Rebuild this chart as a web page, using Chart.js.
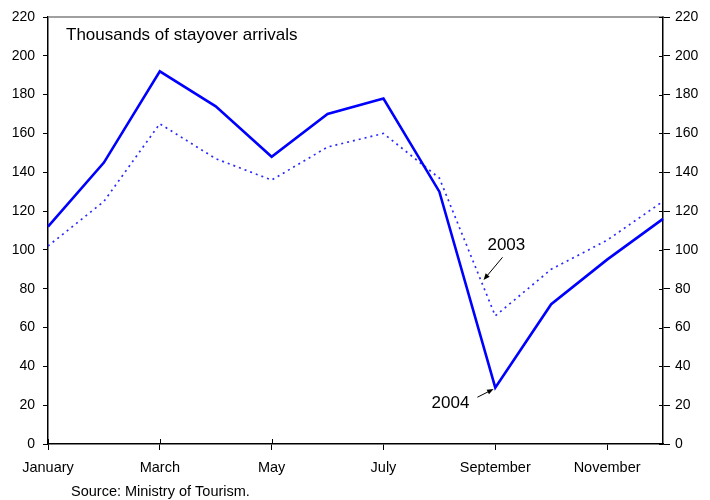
<!DOCTYPE html>
<html>
<head>
<meta charset="utf-8">
<script src="https://cdn.jsdelivr.net/npm/chart.js@4/dist/chart.umd.min.js"></script>
<style>
  html, body { margin: 0; padding: 0; background: #fff; }
  #wrap { width: 710px; height: 500px; position: relative; }
</style>
</head>
<body>
<div id="wrap"><canvas id="c" width="710" height="500"></canvas></div>
<script>
// Monthly stayover arrivals, thousands
const months = ['January', 'February', 'March', 'April', 'May', 'June',
                'July', 'August', 'September', 'October', 'November', 'December'];
const arrivals2004 = [112, 145, 192, 174, 148, 170, 178, 130, 29, 72, 95, 116];
const arrivals2003 = [102, 125, 165, 147, 136, 153, 160, 137, 66, 90, 105, 125];
const yTicks = { min: 0, max: 220, step: 20 };

const chartTitle = 'Thousands of stayover arrivals';
const sourceNote = 'Source: Ministry of Tourism.';

// Year callouts in data space: label anchor, arrow tail, arrow tip
const callouts = [
  { text: '2003', at: [7.86, 100], from: [8.13, 96.2], to: [7.79, 84.5] },
  { text: '2004', at: [6.86, 18.5], from: [7.68, 24.1], to: [7.97, 28.3] }
];

const FONT = '"Liberation Sans", Arial, sans-serif';

const decorations = {
  id: 'decorations',
  afterDraw(chart) {
    const { ctx, chartArea: a, scales } = chart;
    const x = scales.x, y = scales.y, yr = scales.yRight;
    ctx.save();

    // grey frame line along the top of the plot
    ctx.strokeStyle = '#808080';
    ctx.lineWidth = 1.5;
    ctx.beginPath();
    ctx.moveTo(a.left, a.top);
    ctx.lineTo(a.right, a.top);
    ctx.stroke();

    // inner halves of the crossing tick marks
    ctx.strokeStyle = '#000';
    ctx.lineWidth = 1;
    x.ticks.forEach((t, i) => {
      if (i % 2 !== 0) return;
      const px = Math.round(x.getPixelForValue(i)) + 0.5;
      ctx.beginPath();
      ctx.moveTo(px, a.bottom);
      ctx.lineTo(px, a.bottom - 5);
      ctx.stroke();
    });
    for (let v = yTicks.min; v <= yTicks.max; v += yTicks.step) {
      const py = Math.round(yr.getPixelForValue(v)) + 0.5;
      ctx.beginPath();
      ctx.moveTo(a.right, py);
      ctx.lineTo(a.right - 4, py);
      ctx.stroke();
    }

    // caption inside the plot
    ctx.fillStyle = '#000';
    ctx.font = '17px ' + FONT;
    ctx.textAlign = 'left';
    ctx.textBaseline = 'alphabetic';
    ctx.fillText(chartTitle, a.left + 18, a.top + 23);

    // source line under the axis
    ctx.font = '14.5px ' + FONT;
    ctx.fillText(sourceNote, 71, 496);

    // year labels with arrows
    callouts.forEach(c => {
      ctx.font = '17px ' + FONT;
      ctx.fillStyle = '#000';
      ctx.fillText(c.text, x.getPixelForValue(c.at[0]), y.getPixelForValue(c.at[1]));
      const x0 = x.getPixelForValue(c.from[0]), y0 = y.getPixelForValue(c.from[1]);
      const x1 = x.getPixelForValue(c.to[0]), y1 = y.getPixelForValue(c.to[1]);
      const ang = Math.atan2(y1 - y0, x1 - x0);
      const head = 7, spread = 0.38;
      ctx.strokeStyle = '#000';
      ctx.lineWidth = 1;
      ctx.beginPath();
      ctx.moveTo(x0, y0);
      ctx.lineTo(x1 - Math.cos(ang) * head * 0.8, y1 - Math.sin(ang) * head * 0.8);
      ctx.stroke();
      ctx.beginPath();
      ctx.moveTo(x1, y1);
      ctx.lineTo(x1 - head * Math.cos(ang - spread), y1 - head * Math.sin(ang - spread));
      ctx.lineTo(x1 - head * Math.cos(ang + spread), y1 - head * Math.sin(ang + spread));
      ctx.closePath();
      ctx.fill();
    });

    ctx.restore();
  }
};

const yAxisBase = (position, tickLen, pad, width) => ({
  type: 'linear',
  position,
  min: yTicks.min,
  max: yTicks.max,
  afterFit(scale) { scale.width = width; },
  grid: { drawOnChartArea: false, drawTicks: true, tickLength: tickLen, color: '#000', lineWidth: 1 },
  border: { display: true, color: '#000', width: 1.5 },
  ticks: {
    stepSize: yTicks.step,
    padding: pad,
    color: '#000',
    font: { family: FONT, size: 14 }
  }
});

new Chart(document.getElementById('c'), {
  type: 'line',
  data: {
    labels: months,
    datasets: [
      {
        label: '2004',
        data: arrivals2004,
        borderColor: '#0000ff',
        borderWidth: 2.6,
        pointRadius: 0,
        tension: 0,
        fill: false
      },
      {
        label: '2003',
        data: arrivals2003,
        borderColor: '#2a2aff',
        borderWidth: 1.7,
        borderDash: [2, 4],
        pointRadius: 0,
        tension: 0,
        fill: false
      }
    ]
  },
  options: {
    responsive: false,
    animation: false,
    devicePixelRatio: 1,
    layout: { padding: { top: 17, left: 0, right: 0, bottom: 20 } },
    plugins: {
      legend: { display: false },
      title: { display: false },
      tooltip: { enabled: false }
    },
    scales: {
      x: {
        type: 'category',
        offset: false,
        afterFit(scale) { scale.height = 36; },
        grid: { drawOnChartArea: false, drawTicks: true, tickLength: 6, color: '#000', lineWidth: 1 },
        border: { display: true, color: '#000', width: 1.5 },
        ticks: {
          autoSkip: false,
          maxRotation: 0,
          padding: 9,
          color: '#000',
          font: { family: FONT, size: 14.5 },
          callback(value, index) { return index % 2 === 0 ? months[index] : null; }
        }
      },
      y: yAxisBase('left', 5, 8, 48),
      yRight: yAxisBase('right', 7, 5, 47)
    }
  },
  plugins: [decorations]
});
</script>
</body>
</html>
